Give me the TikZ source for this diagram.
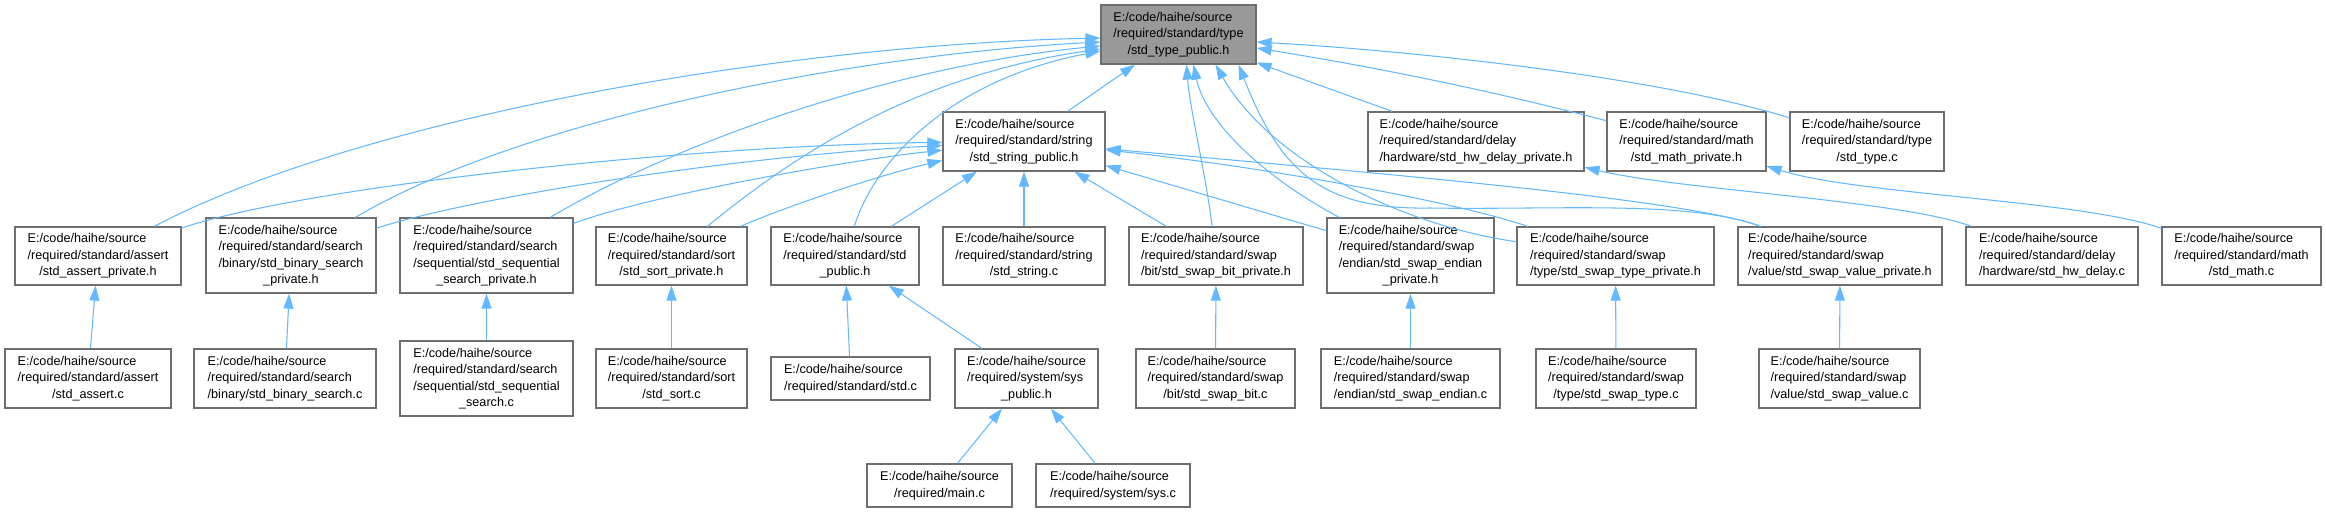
\documentclass[tikz,border=0pt]{standalone}
\usepackage{fontspec}
\setmainfont{Liberation Sans}
\usepackage{xcolor}
\usepackage{tikz}
\usetikzlibrary{arrows.meta,calc}
\definecolor{edgeblue}{HTML}{63B8FF}
\definecolor{boxline}{HTML}{6E6E6E}
\definecolor{hdrfill}{HTML}{999999}
\newcommand{\flab}[2]{\begin{tabular}{@{}l@{}}#1\\\multicolumn{1}{@{}c@{}}{#2}\end{tabular}}
\newcommand{\hpath}{E:/code/haihe/source}

\begin{document}
\begin{tikzpicture}[x=0.02cm, y=-0.02cm, >={Triangle[length=0.3cm,width=0.2cm]},
  srcfile/.style={draw=boxline, line width=0.7pt, fill=white, inner sep=0pt, font=\fontsize{7.2}{9.4}\selectfont},
  hdr/.style={srcfile, fill=hdrfill},
  sz/.style 2 args={minimum width=#1*0.02cm, minimum height=#2*0.02cm},
  incl/.style={->, draw=edgeblue, line width=0.6pt}]
  \useasboundingbox (0,0) rectangle (2326,512);
  \node[hdr, sz={155}{59}] (top) at (1178.5,34.5) {\flab{\hpath\\/required/standard/type}{/std\_type\_public.h}};
  \node[srcfile, sz={162}{59}] (strpub) at (1024,141.5) {\flab{\hpath\\/required/standard/string}{/std\_string\_public.h}};
  \node[srcfile, sz={216}{59}] (hwdp) at (1476,141.5) {\flab{\hpath\\/required/standard/delay}{/hardware/std\_hw\_delay\_private.h}};
  \node[srcfile, sz={159}{59}] (mathp) at (1686.5,141.5) {\flab{\hpath\\/required/standard/math}{/std\_math\_private.h}};
  \node[srcfile, sz={154}{59}] (typec) at (1867,141.5) {\flab{\hpath\\/required/standard/type}{/std\_type.c}};
  \node[srcfile, sz={166}{58}] (assertp) at (98,256) {\flab{\hpath\\/required/standard/assert}{/std\_assert\_private.h}};
  \node[srcfile, sz={170}{75}] (binp) at (291,255.5) {\flab{\hpath\\/required/standard/search\\/binary/std\_binary\_search}{\_private.h}};
  \node[srcfile, sz={173}{75}] (seqp) at (486.5,255.5) {\flab{\hpath\\/required/standard/search\\/sequential/std\_sequential}{\_search\_private.h}};
  \node[srcfile, sz={151}{58}] (sortp) at (671.5,256) {\flab{\hpath\\/required/standard/sort}{/std\_sort\_private.h}};
  \node[srcfile, sz={148}{58}] (stdp) at (845,256) {\flab{\hpath\\/required/standard/std}{\_public.h}};
  \node[srcfile, sz={162}{58}] (stringc) at (1024,256) {\flab{\hpath\\/required/standard/string}{/std\_string.c}};
  \node[srcfile, sz={174}{58}] (bitp) at (1216,256) {\flab{\hpath\\/required/standard/swap}{/bit/std\_swap\_bit\_private.h}};
  \node[srcfile, sz={167}{75}] (endianp) at (1410.5,255.5) {\flab{\hpath\\/required/standard/swap\\/endian/std\_swap\_endian}{\_private.h}};
  \node[srcfile, sz={197}{58}] (typep) at (1615.5,256) {\flab{\hpath\\/required/standard/swap}{/type/std\_swap\_type\_private.h}};
  \node[srcfile, sz={204}{58}] (valuep) at (1840,256) {\flab{\hpath\\/required/standard/swap}{/value/std\_swap\_value\_private.h}};
  \node[srcfile, sz={172}{58}] (hwdc) at (2052,256) {\flab{\hpath\\/required/standard/delay}{/hardware/std\_hw\_delay.c}};
  \node[srcfile, sz={159}{58}] (mathc) at (2241.5,256) {\flab{\hpath\\/required/standard/math}{/std\_math.c}};
  \node[srcfile, sz={166}{59}] (assertc) at (88,378.5) {\flab{\hpath\\/required/standard/assert}{/std\_assert.c}};
  \node[srcfile, sz={182}{59}] (binc) at (285,378.5) {\flab{\hpath\\/required/standard/search}{/binary/std\_binary\_search.c}};
  \node[srcfile, sz={173}{75}] (seqc) at (486.5,378.5) {\flab{\hpath\\/required/standard/search\\/sequential/std\_sequential}{\_search.c}};
  \node[srcfile, sz={151}{59}] (sortc) at (671.5,378.5) {\flab{\hpath\\/required/standard/sort}{/std\_sort.c}};
  \node[srcfile, sz={159}{43}] (stdc) at (850.5,378.5) {\flab{\hpath}{/required/standard/std.c}};
  \node[srcfile, sz={143}{59}] (syspub) at (1026.5,378.5) {\flab{\hpath\\/required/system/sys}{\_public.h}};
  \node[srcfile, sz={159}{59}] (bitc) at (1215.5,378.5) {\flab{\hpath\\/required/standard/swap}{/bit/std\_swap\_bit.c}};
  \node[srcfile, sz={179}{59}] (endianc) at (1410.5,378.5) {\flab{\hpath\\/required/standard/swap}{/endian/std\_swap\_endian.c}};
  \node[srcfile, sz={160}{59}] (swtypec) at (1616,378.5) {\flab{\hpath\\/required/standard/swap}{/type/std\_swap\_type.c}};
  \node[srcfile, sz={161}{59}] (valuec) at (1839.5,378.5) {\flab{\hpath\\/required/standard/swap}{/value/std\_swap\_value.c}};
  \node[srcfile, sz={145}{43}] (mainc) at (939.5,485.5) {\flab{\hpath}{/required/main.c}};
  \node[srcfile, sz={154}{43}] (sysc) at (1113,485.5) {\flab{\hpath}{/required/system/sys.c}};
  \foreach \a/\b in {strpub/top, hwdp/top, stdp/strpub, stringc/strpub, bitp/strpub, endianp/strpub,
      assertc/assertp, binc/binp, seqc/seqp, sortc/sortp, stdc/stdp, syspub/stdp, bitc/bitp,
      endianc/endianp, swtypec/typep, valuec/valuep, mainc/syspub, sysc/syspub}
    \draw[incl] (\a) -- (\b);
  \draw[incl] (assertp) .. controls (360,118) and (780,45) .. ($(top.west)+(0,3.5)$);
  \draw[incl] (binp) .. controls (520,120) and (850,55) .. ($(top.west)+(0,7.5)$);
  \draw[incl] (seqp) .. controls (680,140) and (900,65) .. ($(top.west)+(0,11.5)$);
  \draw[incl] (sortp) .. controls (800,150) and (920,75) .. ($(top.west)+(0,14.5)$);
  \draw[incl] (stdp) .. controls (875,160) and (950,80) .. ($(top.west)+(0,16.5)$);
  \draw[incl] (bitp) .. controls (1205,170) and (1190,110) .. ($(top.south)+(8,0)$);
  \draw[incl] (endianp) .. controls (1260,175) and (1205,120) .. ($(top.south)+(15,0)$);
  \draw[incl] (typep) .. controls (1400,225) and (1270,160) .. ($(top.south)+(37,0)$);
  \draw[incl] (valuep) .. controls (1690,200) and (1560,210) .. (1430,208) .. controls (1320,210) and (1280,170) .. ($(top.south)+(60,0)$);
  \draw[incl] (mathp) .. controls (1450,80) and (1330,60) .. ($(top.east)+(0,13.5)$);
  \draw[incl] (typec) .. controls (1650,75) and (1400,50) .. ($(top.east)+(0,7.5)$);
  \draw[incl] (assertp) .. controls (310,185) and (700,145) .. (strpub);
  \draw[incl] (binp) .. controls (480,195) and (750,155) .. (strpub);
  \draw[incl] (seqp) .. controls (650,195) and (850,160) .. (strpub);
  \draw[incl] (sortp) .. controls (790,205) and (880,175) .. (strpub);
  \draw[incl] (typep) .. controls (1450,200) and (1250,165) .. (strpub);
  \draw[incl] (valuep) .. controls (1690,200) and (1400,175) .. (strpub);
  \draw[incl] (hwdc) .. controls (1900,200) and (1680,190) .. (hwdp);
  \draw[incl] (mathc) .. controls (2080,200) and (1860,195) .. (mathp);
\end{tikzpicture}
\end{document}
